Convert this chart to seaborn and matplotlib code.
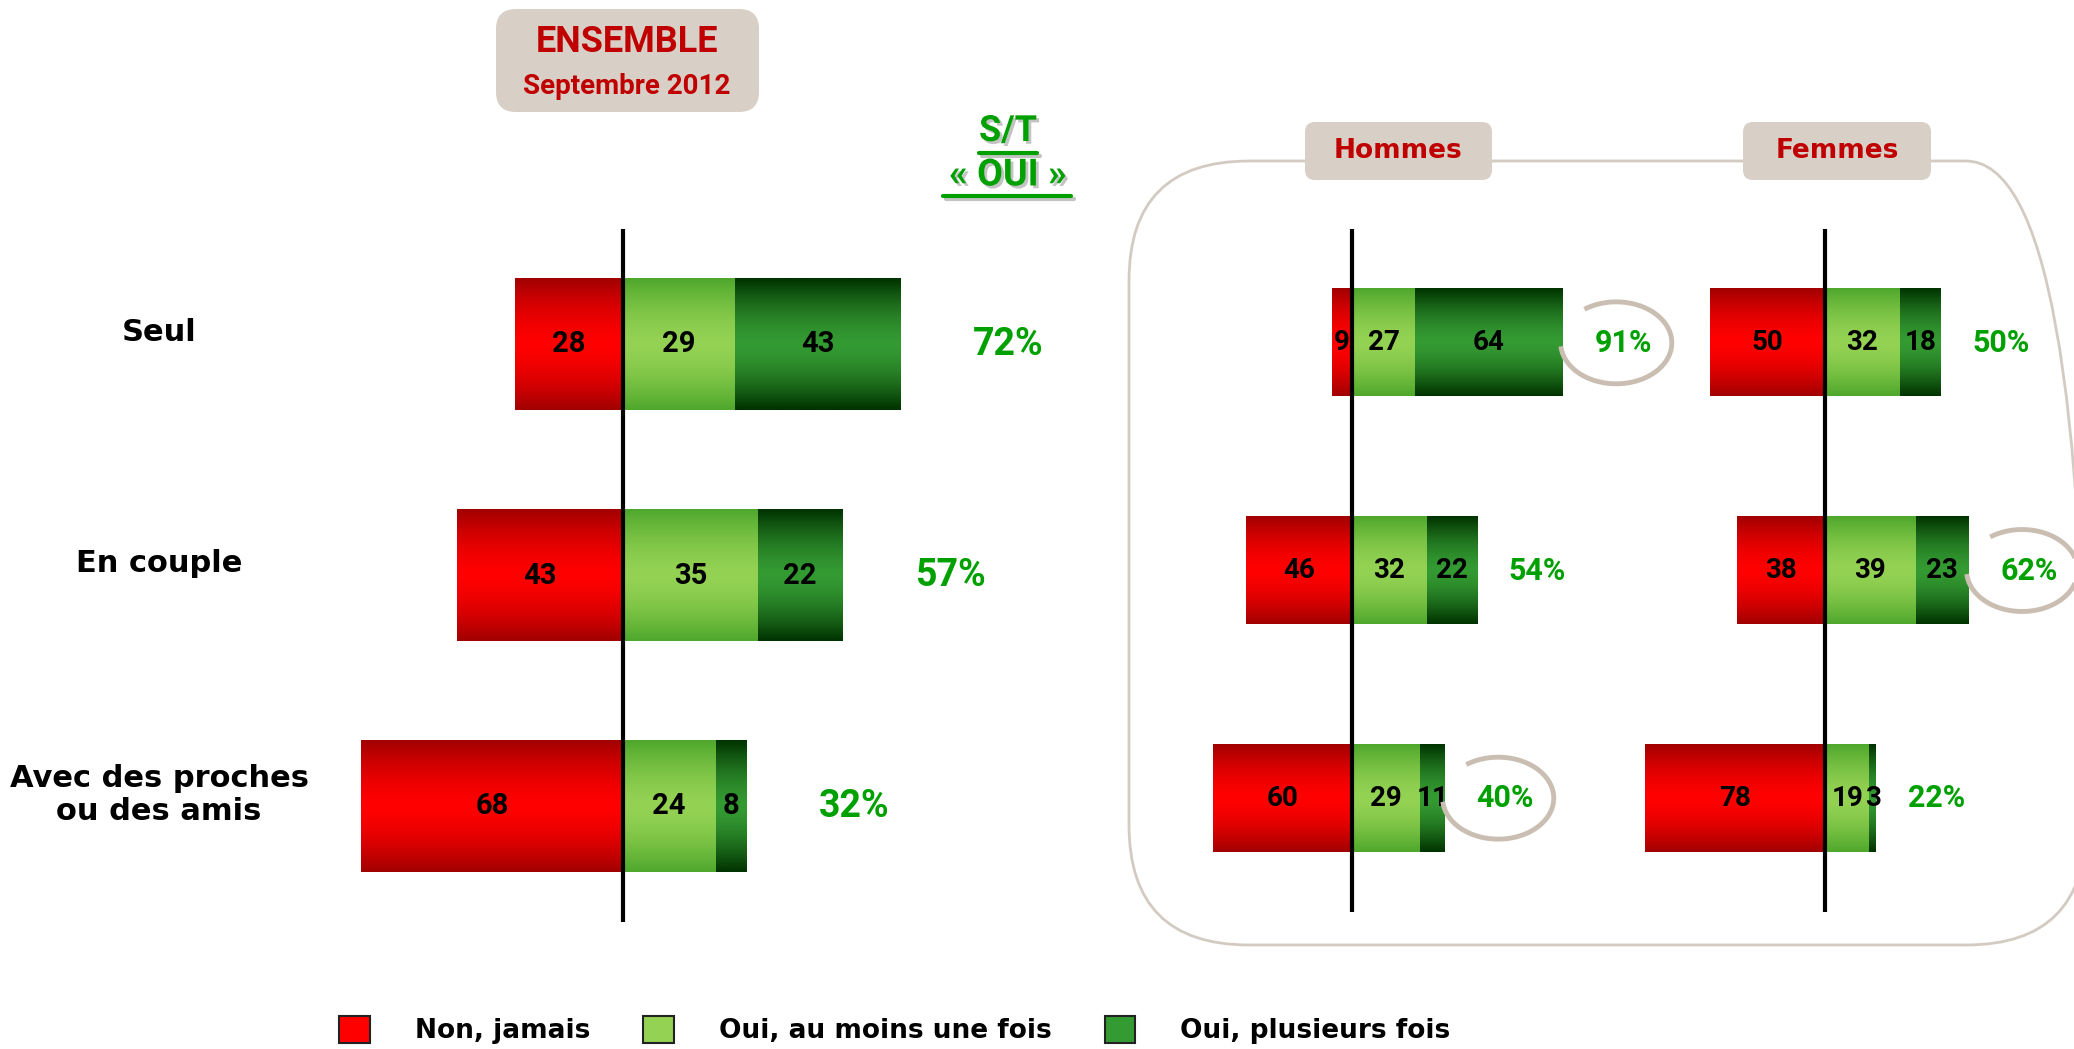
import numpy as np
import pandas as pd
import seaborn as sns
import matplotlib.pyplot as plt
import matplotlib.colors as mcolors
import matplotlib.patheffects as pe
from matplotlib.patches import FancyBboxPatch, Patch
from matplotlib.lines import Line2D
from matplotlib.transforms import IdentityTransform, blended_transform_factory

# data
categories = ["Seul", "En couple", "Avec des proches\nou des amis"]
segments = ["Non, jamais", "Oui, au moins une fois", "Oui, plusieurs fois"]

ensemble_non = [28, 43, 68]
ensemble_une = [29, 35, 24]
ensemble_plus = [43, 22, 8]
ensemble_st = [72, 57, 32]

hommes_non = [9, 46, 60]
hommes_une = [27, 32, 29]
hommes_plus = [64, 22, 11]
hommes_st = [91, 54, 40]
hommes_circled = [True, False, True]

femmes_non = [50, 38, 78]
femmes_une = [32, 39, 19]
femmes_plus = [18, 23, 3]
femmes_st = [50, 62, 22]
femmes_circled = [False, True, False]

W, H = 2074, 1049
RED = ("#ff0000", "#a20000")
LIGHT = ("#94d253", "#4fa82c")
DARK = ("#349a32", "#003300")
BEIGE = "#d8cfc6"
DARKRED = "#c00000"
GREEN = "#00a000"
RING = "#c9beb1"
NARROW = ["Roboto", "DejaVu Sans"]

sns.set_theme(style="white")
plt.rcParams["font.family"] = ["DejaVu Sans"]
plt.rcParams["text.color"] = "black"


def gradient(colors, n=64, power=1.6):
    c = np.array(mcolors.to_rgb(colors[0]))
    e = np.array(mcolors.to_rgb(colors[1]))
    t = np.abs(np.linspace(-1, 1, n)) ** power
    return (c + (e - c) * t[:, None])[:, None, :]


def shade_bars(ax, patches, colors, z):
    img = gradient(colors)
    for p in patches:
        x0, y0 = p.get_x(), p.get_y()
        w, h = p.get_width(), p.get_height()
        p.set_facecolor("none")
        p.set_edgecolor("none")
        ax.imshow(img, extent=[x0, x0 + w, y0 + h, y0], aspect="auto",
                  interpolation="bilinear", zorder=z)


def ring(ax, x, y, a, b):
    # open circle around a label, gap on the upper left
    t = np.radians(np.linspace(185, 485, 200))
    ax.plot(x + a * np.cos(t), y - b * np.sin(t), color=RING, lw=3.5,
            zorder=6, clip_on=False, solid_capstyle="butt")


def draw_panel(ax, non, une, plus, st, bar_h, val_size, pct_size, pct_gap,
               circled=None, ring_size=None):
    df = pd.DataFrame({"cat": categories, "non": non, "une": une,
                       "plus": plus})
    df["neg"] = -df["non"]
    df["cum"] = df["une"] + df["plus"]
    layers = [("cum", DARK, 1.1), ("une", LIGHT, 1.2), ("neg", RED, 1.2)]
    for col, colors, z in layers:
        n0 = len(ax.patches)
        sns.barplot(data=df, x=col, y="cat", orient="h", width=bar_h,
                    color=colors[0], saturation=1, errorbar=None, ax=ax)
        shade_bars(ax, ax.patches[n0:], colors, z)
    txt = dict(ha="center", va="center", fontsize=val_size,
               fontweight="bold", family=NARROW, color="black", zorder=5)
    for i, row in df.iterrows():
        ax.text(-row["non"] / 2, i, str(row["non"]), **txt)
        ax.text(row["une"] / 2, i, str(row["une"]), **txt)
        ax.text(row["une"] + row["plus"] / 2, i, str(row["plus"]), **txt)
        xp = row["cum"] + pct_gap
        ax.text(xp, i, f"{st[i]}%", ha="center", va="center",
                fontsize=pct_size, fontweight="bold", color=GREEN,
                family=NARROW, zorder=5, clip_on=False)
        if circled is not None and circled[i]:
            ring(ax, xp - 3, i, ring_size[0], ring_size[1])
    ax.axvline(0, color="black", lw=3, zorder=4)
    ax.set_ylim(2.5, -0.5)
    ax.axis("off")


fig = plt.figure(figsize=(W / 100, H / 100), dpi=100)


def add_axes(left, top, width, bottom):
    return fig.add_axes([left / W, 1 - bottom / H, width / W,
                         (bottom - top) / H])


ax_ens = add_axes(238, 229, 847, 922)
ax_hom = add_axes(1144, 229, 463, 912)
ax_fem = add_axes(1617, 229, 463, 912)

draw_panel(ax_ens, ensemble_non, ensemble_une, ensemble_plus, ensemble_st,
           0.57, 21, 27, 28)
ax_ens.set_xlim(-100, 120)
draw_panel(ax_hom, hommes_non, hommes_une, hommes_plus, hommes_st,
           0.47, 20, 22, 26, hommes_circled, (24, 0.18))
ax_hom.set_xlim(-90, 110)
draw_panel(ax_fem, femmes_non, femmes_une, femmes_plus, femmes_st,
           0.47, 20, 22, 26, femmes_circled, (24, 0.18))
ax_fem.set_xlim(-90, 110)

# row labels
lab_tr = blended_transform_factory(fig.transFigure, ax_ens.transData)
for i, cat in enumerate(categories):
    fig.text(159 / W, i - 0.05, cat, transform=lab_tr, ha="center",
             va="center", fontsize=22, fontweight="bold", color="black")


def px_box(x0, y0, x1, y1, r, **kw):
    box = FancyBboxPatch((x0, H - y1), x1 - x0, y1 - y0,
                         boxstyle=f"round,pad=0,rounding_size={r}",
                         transform=IdentityTransform(), **kw)
    fig.add_artist(box)


# sub-group frame (cut by the right edge) and header boxes
px_box(1129, 161, 2086, 945, 120, fc="none", ec="#d3cbc1", lw=2, zorder=0.5)
px_box(496, 9, 759, 112, 20, fc=BEIGE, ec="none", zorder=1)
px_box(1305, 122, 1492, 180, 10, fc=BEIGE, ec="none", zorder=1)
px_box(1743, 122, 1931, 180, 10, fc=BEIGE, ec="none", zorder=1)

fig.text(627 / W, 1 - 42 / H, "ENSEMBLE", ha="center", va="center",
         fontsize=26, fontweight="bold", color=DARKRED, family=NARROW,
         zorder=2)
fig.text(627 / W, 1 - 87 / H, "Septembre 2012", ha="center", va="center",
         fontsize=20, fontweight="bold", color=DARKRED, family=NARROW,
         zorder=2)
fig.text(1398 / W, 1 - 151 / H, "Hommes", ha="center", va="center",
         fontsize=19, fontweight="bold", color=DARKRED, zorder=2)
fig.text(1837 / W, 1 - 151 / H, "Femmes", ha="center", va="center",
         fontsize=19, fontweight="bold", color=DARKRED, zorder=2)

# S/T « OUI » header
shadow = [pe.withSimplePatchShadow(offset=(2, -2), shadow_rgbFace="#888888",
                                   alpha=0.5)]
fig.text(1008 / W, 1 - 131 / H, "S/T", ha="center", va="center",
         fontsize=26, fontweight="bold", color=GREEN, family=NARROW,
         path_effects=shadow)
fig.text(1008 / W, 1 - 175 / H, "« OUI »", ha="center", va="center",
         fontsize=27, fontweight="bold", color=GREEN, family=NARROW,
         path_effects=shadow)
line_fx = [pe.SimpleLineShadow(offset=(2, -2), shadow_color="#888888",
                               alpha=0.5), pe.Normal()]
for x0, x1, y in [(979, 1037, 153), (943, 1071, 196)]:
    fig.add_artist(Line2D([x0 / W, x1 / W], [1 - y / H, 1 - y / H],
                          transform=fig.transFigure, color=GREEN, lw=3,
                          path_effects=line_fx))

# legend
handles = [Patch(facecolor=c[0], edgecolor="#222222", lw=1.5)
           for c in (RED, LIGHT, DARK)]
leg = fig.legend(handles, segments, loc="center",
                 bbox_to_anchor=(895 / W, 0.018), ncol=3, frameon=False,
                 handlelength=1.17, handleheight=1.17, handletextpad=1.7,
                 columnspacing=2.0, borderpad=0,
                 prop={"weight": "bold", "size": 19})
for t in leg.get_texts():
    t.set_color("black")

fig.savefig("out.png", dpi=100)
